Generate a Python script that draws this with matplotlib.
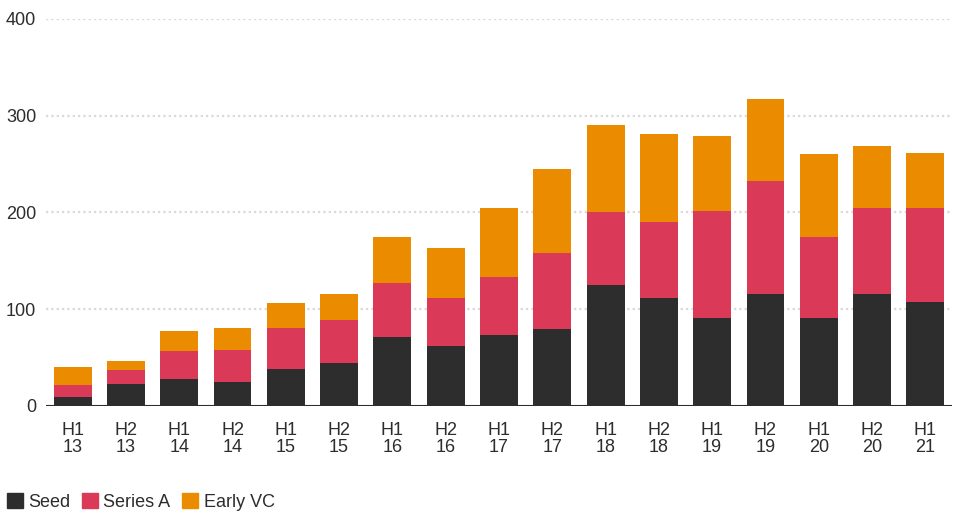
import matplotlib
matplotlib.use("Agg")
import matplotlib.pyplot as plt
from matplotlib.patches import Patch
import numpy as np

plt.rcParams['font.family'] = ['Liberation Sans', 'DejaVu Sans']

periods = ["H1\n13", "H2\n13", "H1\n14", "H2\n14", "H1\n15", "H2\n15", "H1\n16", "H2\n16",
           "H1\n17", "H2\n17", "H1\n18", "H2\n18", "H1\n19", "H2\n19", "H1\n20", "H2\n20", "H1\n21"]
seed = [9, 22.4, 27.6, 24.5, 37.9, 44.1, 70.8, 62, 73.4, 79.6, 124.5, 111, 90.4, 115.2, 90.4, 115.2, 106.9]
series_a = [12.4, 14.5, 28.9, 33, 42.7, 44.2, 55.7, 49.3, 59.3, 78.2, 75.5, 78.6, 110.6, 116.8, 83.6, 89.8, 98.1]
early_vc = [18.6, 9.3, 20.5, 23.1, 25.4, 26.9, 47.8, 51.7, 72.3, 86.7, 90.8, 91.9, 78.4, 85.7, 86.8, 64, 56.9]
yticks = [0, 100, 200, 300, 400]
legend_labels = ["Seed", "Series A", "Early VC"]

c_seed = "#2d2d2d"
c_a = "#da3a57"
c_vc = "#eb8c00"
txt = "#2d2d2d"
fs = 13

fig = plt.figure(figsize=(9.6, 5.13), dpi=100)
ax = fig.add_axes([46/960, (513-405.7)/513, (952-46)/960, (405.7-19)/513])

x = np.arange(len(periods))
w = 0.71
s = np.array(seed); a = np.array(series_a); v = np.array(early_vc)
ax.bar(x, s, w, color=c_seed, zorder=2)
ax.bar(x, a, w, bottom=s, color=c_a, zorder=2)
ax.bar(x, v, w, bottom=s + a, color=c_vc, zorder=2)

ax.set_xlim(-0.5, len(periods) - 0.5)
ax.set_ylim(0, 400)
ax.set_yticks(yticks)
ax.set_yticklabels([str(t) for t in yticks])
for t in yticks[1:]:
    ax.axhline(t, color="#d9d9d9", lw=1.6, ls=(0, (1, 1.4)), zorder=1)
ax.axhline(0, color="#2d2d2d", lw=1.5, zorder=3)

for sp in ax.spines.values():
    sp.set_visible(False)
ax.tick_params(axis='y', length=0, pad=7, labelsize=fs, labelcolor=txt)
ax.tick_params(axis='x', length=0, pad=11.5, labelsize=fs, labelcolor=txt)
ax.set_xticks(x)
ax.set_xticklabels(periods, linespacing=1.0)

handles = [Patch(color=c) for c in (c_seed, c_a, c_vc)]
fig.legend(handles, legend_labels, loc="center left", bbox_to_anchor=(7/960, 1 - 502/513),
           frameon=False, ncol=3, fontsize=fs, handlelength=0.88, handleheight=0.88,
           handletextpad=0.3, columnspacing=0.65, borderpad=0, borderaxespad=0,
           labelcolor=txt)

fig.savefig("out.png", dpi=100, facecolor="white")
